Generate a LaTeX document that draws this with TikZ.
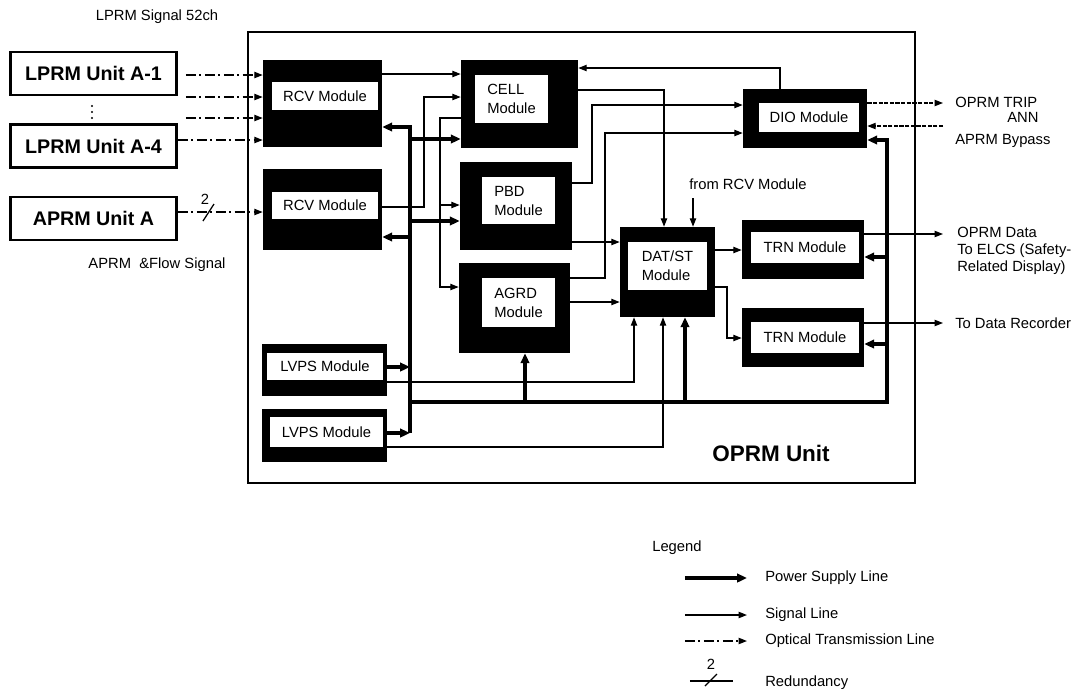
\documentclass[tikz,border=0pt]{standalone}
\usepackage{fontspec}
\setsansfont{Liberation Sans}
\usetikzlibrary{arrows.meta}
\tikzset{
  every picture/.style={font=\sffamily\fontsize{10.5}{13.5}\selectfont},
  modbox/.style 2 args={fill=black, inner sep=0pt, minimum width=#1*0.025cm, minimum height=#2*0.025cm},
  modlbl/.style 2 args={fill=white, inner sep=0pt, align=left, minimum width=#1*0.025cm, minimum height=#2*0.025cm},
  unitbox/.style={draw, line width=1.8pt, inner sep=0pt, minimum width=4.15cm, minimum height=1.07cm, font=\sffamily\bfseries\fontsize{14}{16}\selectfont},
  sig/.style={-{Triangle[length=6pt,width=4.5pt]}, line width=0.9pt},
  pwr/.style={-{Triangle[length=7pt,width=6pt]}, line width=2.4pt},
  opt/.style={sig, dash pattern=on 7pt off 2.5pt on 1.5pt off 2.5pt},
  note/.style={anchor=west, inner sep=0pt, align=left},
}
\begin{document}
\begin{tikzpicture}[x=0.025cm, y=-0.025cm]
  \useasboundingbox (0,0) rectangle (1082,693);
  % inputs
  \node (sigtop) at (157,17) {LPRM Signal 52ch};
  \node[unitbox] (lprmA) at (93.5,73.5) {LPRM Unit A-1};
  \foreach \y in {106,112,118} \fill (92,\y) circle (0.8pt);
  \node[unitbox] (lprmD) at (93.5,146) {LPRM Unit A-4};
  \node[unitbox] (aprm) at (93.5,218.5) {APRM Unit A};
  \node (flow) at (157,265) {APRM \ \&Flow Signal};
  % the unit
  \node[draw, line width=1.4pt, minimum width=667*0.025cm, minimum height=451*0.025cm] (oprm) at (581.5,257.5) {};
  \node[font=\sffamily\bfseries\fontsize{16}{19}\selectfont] (oprmlbl) at (771,453) {OPRM Unit};
  \foreach \n/\x/\y/\w/\h in {rcvA/322.5/103.5/119/87, rcvB/322.5/209.5/119/81, cell/519.5/104/117/88,
      pbd/516/206/112/88, agrd/514.5/308/111/90, lvpsA/324.5/370/125/52, lvpsB/324.5/435.5/125/53,
      dio/805/118.5/124/59, trnA/803/249.5/122/59, trnB/803/337.5/122/59, dat/667.5/272/95/90}
    \node[modbox={\w}{\h}] (\n) at (\x,\y) {};
  \node[modlbl={106}{28}] (rcvA-t) at (325,96) {RCV Module};
  \node[modlbl={106}{27}] (rcvB-t) at (325,205.5) {RCV Module};
  \node[modlbl={73}{48}] (cell-t) at (511.5,99) {CELL\\Module};
  \node[modlbl={73}{47}] (pbd-t) at (518.5,200.5) {PBD\\Module};
  \node[modlbl={73}{49}] (agrd-t) at (518.5,302.5) {AGRD\\Module};
  \node[modlbl={116}{27}] (lvpsA-t) at (325,366.5) {LVPS Module};
  \node[modlbl={113}{30}] (lvpsB-t) at (326.5,432) {LVPS Module};
  \node[modlbl={100}{29}] (dio-t) at (809,117.5) {DIO Module};
  \node[modlbl={108}{31}] (trnA-t) at (805,247.5) {TRN Module};
  \node[modlbl={108}{31}] (trnB-t) at (805,337.5) {TRN Module};
  \node[modlbl={79}{48}] (dat-t) at (667.5,266) {DAT/ST\\Module};
  % optical inputs
  \coordinate (optS) at ([xshift=0.2cm]lprmA.east);
  \foreach \y in {75,97,118} \draw[opt] (optS |- 0,\y) -- (rcvA.west |- 0,\y);
  \draw[opt] (lprmD.east |- 0,140) -- (rcvA.west |- 0,140);
  \draw[opt] (aprm.east |- 0,212) -- (rcvB.west |- 0,212);
  \draw[line width=0.9pt] (203,221) -- (214,204);
  \node (red) at (205,199) {2};
  % signal lines
  \draw[sig] (rcvA.east |- 0,74) -- (cell.west |- 0,74);
  \draw[sig] (rcvB.east |- 0,207) -| (424,97) -- (cell.west |- 0,97);
  \draw[sig] (cell.west |- 0,118) -| (440,287) -- (agrd.west |- 0,287);
  \draw[sig] (440,205) -- (pbd.west |- 0,205);
  \draw[sig] (dio.north -| 780,0) |- (cell.east |- 0,68);
  \draw[sig] (cell.east |- 0,90) -| (dat.north -| 664,0);
  \node (fromrcv) at (748,184) {from RCV Module};
  \draw[sig] ([yshift=-0.1cm]fromrcv.south -| 693,0) -- (dat.north -| 693,0);
  \draw[sig] (pbd.east |- 0,183) -| (592,105) -- (dio.west |- 0,105);
  \draw[sig] (agrd.east |- 0,278) -| (605,133) -- (dio.west |- 0,133);
  \draw[sig] (pbd.east |- 0,242) -- (dat.west |- 0,242);
  \draw[sig] (agrd.east |- 0,302) -- (dat.west |- 0,302);
  \draw[sig] (dat.east |- 0,250) -- (trnA.west |- 0,250);
  \draw[sig] (dat.east |- 0,287) -| (727,338) -- (trnB.west |- 0,338);
  \draw[sig] (lvpsA.east |- 0,382) -| (dat.south -| 634,0);
  \draw[sig] (lvpsB.east |- 0,447) -| (dat.south -| 663,0);
  % outputs
  \coordinate (outx) at (943,0);
  \draw[sig, dash pattern=on 3pt off 1pt] (dio.east |- 0,103) -- (outx |- 0,103);
  \draw[sig, dash pattern=on 3pt off 1pt] (outx |- 0,126) -- (dio.east |- 0,126);
  \draw[sig] (trnA.east |- 0,234) -- (outx |- 0,234);
  \draw[sig] (trnB.east |- 0,323) -- (outx |- 0,323);
  \node[note] (trip) at (955,102) {OPRM TRIP};
  \node[note] (ann) at (1007,117) {ANN};
  \node[note] (byp) at (955,141) {APRM Bypass};
  \node[note, font=\sffamily\fontsize{10.5}{12}\selectfont] (elcs) at (957,251) {OPRM Data\\To ELCS (Safety-\\Related Display)};
  \node[note] (rec) at (955,323) {To Data Recorder};
  % power
  \coordinate (busT) at (410,127);
  \coordinate (busB) at (410,433);
  \coordinate (rbus) at (887,402);
  \draw[pwr] (busB) -- (busT) -- (rcvA.east |- busT);
  \draw[pwr] (busT |- 0,139) -- (cell.west |- 0,139);
  \draw[pwr] (busT |- 0,221) -- (pbd.west |- 0,221);
  \draw[pwr] (busT |- 0,237) -- (rcvB.east |- 0,237);
  \draw[pwr] (lvpsA.east |- 0,367) -- (busT |- 0,367);
  \draw[pwr] (lvpsB.east |- busB) -- (busB);
  \draw[pwr] (busT |- rbus) -- (rbus) |- (dio.east |- 0,140);
  \draw[pwr] (rbus |- 0,257) -- (trnA.east |- 0,257);
  \draw[pwr] (rbus |- 0,344) -- (trnB.east |- 0,344);
  \draw[pwr] (rbus -| 525,0) -- (agrd.south -| 525,0);
  \draw[pwr] (rbus -| 685,0) -- (dat.south -| 685,0);
  % legend
  \node[note] (leg) at (652,548) {Legend};
  \node[note] (legP) at (765,578) {Power Supply Line};
  \node[note] (legS) at (765,615) {Signal Line};
  \node[note] (legO) at (765,641) {Optical Transmission Line};
  \node[note] (legR) at (765,683) {Redundancy};
  \draw[pwr] ([xshift=-2cm]legP.west) -- ([xshift=-0.45cm]legP.west);
  \draw[sig] ([xshift=-2cm]legS.west) -- ([xshift=-0.45cm]legS.west);
  \draw[opt] ([xshift=-2cm]legO.west) -- ([xshift=-0.45cm]legO.west);
  \draw[line width=0.9pt] ([xshift=-1.875cm, yshift=0.05cm]legR.west) -- ([xshift=-0.8cm, yshift=0.05cm]legR.west);
  \draw[line width=0.9pt] (705,686) -- (717,674);
  \node (legN) at (711,664) {2};
\end{tikzpicture}
\end{document}
